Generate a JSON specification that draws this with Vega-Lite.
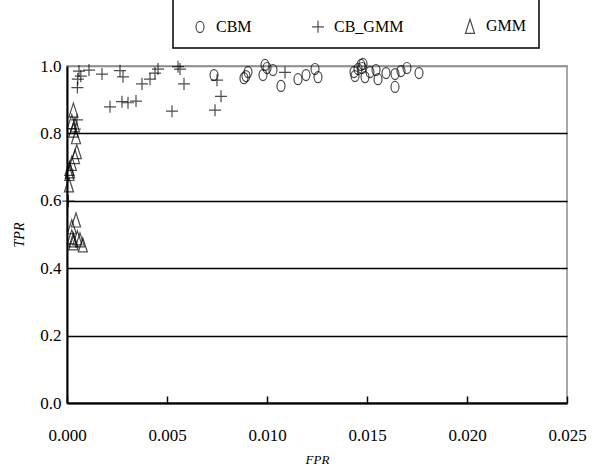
{
  "$schema": "https://vega.github.io/schema/vega-lite/v6.json",
  "width": 500,
  "height": 337,
  "autosize": {"type": "none"},
  "padding": {"left": 67, "top": 66, "right": 41, "bottom": 63},
  "background": "white",
  "config": {
    "font": "Liberation Serif, Times New Roman, serif",
    "legend": {"strokeWidth": 1.5},
    "view": {"stroke": "#8c8c8c", "strokeWidth": 1.5}
  },
  "data": {
    "values": [
      {"method": "CB_GMM", "fpr": 0.00054, "tpr": 0.961},
      {"method": "CB_GMM", "fpr": 0.00052, "tpr": 0.936},
      {"method": "CB_GMM", "fpr": 0.00069, "tpr": 0.970},
      {"method": "CB_GMM", "fpr": 0.0006, "tpr": 0.985},
      {"method": "CB_GMM", "fpr": 0.0011, "tpr": 0.988},
      {"method": "CB_GMM", "fpr": 0.00175, "tpr": 0.976},
      {"method": "CB_GMM", "fpr": 0.00265, "tpr": 0.986},
      {"method": "CB_GMM", "fpr": 0.0028, "tpr": 0.968},
      {"method": "CB_GMM", "fpr": 0.00215, "tpr": 0.879},
      {"method": "CB_GMM", "fpr": 0.00275, "tpr": 0.894},
      {"method": "CB_GMM", "fpr": 0.00305, "tpr": 0.891},
      {"method": "CB_GMM", "fpr": 0.00345, "tpr": 0.896},
      {"method": "CB_GMM", "fpr": 0.00375, "tpr": 0.947},
      {"method": "CB_GMM", "fpr": 0.00415, "tpr": 0.961},
      {"method": "CB_GMM", "fpr": 0.0044, "tpr": 0.979},
      {"method": "CB_GMM", "fpr": 0.00455, "tpr": 0.991},
      {"method": "CB_GMM", "fpr": 0.00525, "tpr": 0.866},
      {"method": "CB_GMM", "fpr": 0.00555, "tpr": 0.998},
      {"method": "CB_GMM", "fpr": 0.00565, "tpr": 0.991},
      {"method": "CB_GMM", "fpr": 0.00585, "tpr": 0.947},
      {"method": "CB_GMM", "fpr": 0.0074, "tpr": 0.869},
      {"method": "CB_GMM", "fpr": 0.0077, "tpr": 0.910},
      {"method": "CB_GMM", "fpr": 0.0075, "tpr": 0.958},
      {"method": "CB_GMM", "fpr": 0.0109, "tpr": 0.981},
      {"method": "CB_GMM", "fpr": 0.0005, "tpr": 0.840},
      {"method": "CB_GMM", "fpr": 0.0004, "tpr": 0.813},
      {"method": "CB_GMM", "fpr": 0.00007, "tpr": 0.599},
      {"method": "CBM", "fpr": 0.00735, "tpr": 0.973},
      {"method": "CBM", "fpr": 0.00885, "tpr": 0.964},
      {"method": "CBM", "fpr": 0.00895, "tpr": 0.970},
      {"method": "CBM", "fpr": 0.00905, "tpr": 0.982},
      {"method": "CBM", "fpr": 0.0098, "tpr": 0.973},
      {"method": "CBM", "fpr": 0.0099, "tpr": 1.003},
      {"method": "CBM", "fpr": 0.0100, "tpr": 0.994},
      {"method": "CBM", "fpr": 0.0103, "tpr": 0.988},
      {"method": "CBM", "fpr": 0.0107, "tpr": 0.941},
      {"method": "CBM", "fpr": 0.01155, "tpr": 0.961},
      {"method": "CBM", "fpr": 0.01195, "tpr": 0.973},
      {"method": "CBM", "fpr": 0.0124, "tpr": 0.991},
      {"method": "CBM", "fpr": 0.01255, "tpr": 0.967},
      {"method": "CBM", "fpr": 0.01435, "tpr": 0.982},
      {"method": "CBM", "fpr": 0.0144, "tpr": 0.970},
      {"method": "CBM", "fpr": 0.01455, "tpr": 0.991},
      {"method": "CBM", "fpr": 0.0147, "tpr": 1.003},
      {"method": "CBM", "fpr": 0.0148, "tpr": 1.006},
      {"method": "CBM", "fpr": 0.01475, "tpr": 0.994},
      {"method": "CBM", "fpr": 0.0149, "tpr": 0.967},
      {"method": "CBM", "fpr": 0.01515, "tpr": 0.982},
      {"method": "CBM", "fpr": 0.01545, "tpr": 0.988},
      {"method": "CBM", "fpr": 0.01555, "tpr": 0.961},
      {"method": "CBM", "fpr": 0.01595, "tpr": 0.979},
      {"method": "CBM", "fpr": 0.0164, "tpr": 0.976},
      {"method": "CBM", "fpr": 0.0164, "tpr": 0.938},
      {"method": "CBM", "fpr": 0.0167, "tpr": 0.985},
      {"method": "CBM", "fpr": 0.0170, "tpr": 0.994},
      {"method": "CBM", "fpr": 0.0176, "tpr": 0.979},
      {"method": "GMM", "fpr": 0.00032, "tpr": 0.869},
      {"method": "GMM", "fpr": 0.00024, "tpr": 0.835},
      {"method": "GMM", "fpr": 0.0004, "tpr": 0.825},
      {"method": "GMM", "fpr": 0.00032, "tpr": 0.810},
      {"method": "GMM", "fpr": 0.00045, "tpr": 0.790},
      {"method": "GMM", "fpr": 0.00049, "tpr": 0.746},
      {"method": "GMM", "fpr": 0.0004, "tpr": 0.731},
      {"method": "GMM", "fpr": 0.00024, "tpr": 0.711},
      {"method": "GMM", "fpr": 0.00012, "tpr": 0.696},
      {"method": "GMM", "fpr": 0.00015, "tpr": 0.689},
      {"method": "GMM", "fpr": 0.00012, "tpr": 0.681},
      {"method": "GMM", "fpr": 0.0001, "tpr": 0.647},
      {"method": "GMM", "fpr": 0.00045, "tpr": 0.543},
      {"method": "GMM", "fpr": 0.00024, "tpr": 0.523},
      {"method": "GMM", "fpr": 0.00024, "tpr": 0.493},
      {"method": "GMM", "fpr": 0.00032, "tpr": 0.484},
      {"method": "GMM", "fpr": 0.00052, "tpr": 0.490},
      {"method": "GMM", "fpr": 0.00065, "tpr": 0.484},
      {"method": "GMM", "fpr": 0.00079, "tpr": 0.469},
      {"method": "GMM", "fpr": 0.00032, "tpr": 0.475}
    ]
  },
  "mark": {"type": "point", "filled": false, "color": "black", "strokeWidth": 1.2, "size": 196, "clip": false},
  "encoding": {
    "x": {
      "field": "fpr", "type": "quantitative",
      "scale": {"domain": [0, 0.025], "nice": false},
      "axis": {
        "values": [0, 0.005, 0.01, 0.015, 0.02, 0.025],
        "format": ".3f", "title": "FPR",
        "grid": false, "domainColor": "black", "domainWidth": 2,
        "tickColor": "black", "tickWidth": 1.5, "tickSize": -7,
        "labelFontSize": 17, "labelColor": "black",
        "labelPadding": 31, "labelFlush": false,
        "titleFontSize": 13, "titleFontStyle": "italic",
        "titleFontWeight": "normal", "titleColor": "black", "titlePadding": 10
      }
    },
    "y": {
      "field": "tpr", "type": "quantitative",
      "scale": {"domain": [0, 1], "nice": false},
      "axis": {
        "values": [0, 0.2, 0.4, 0.6, 0.8, 1.0],
        "format": ".1f", "title": "TPR",
        "grid": true,
        "gridColor": {"condition": {"test": "datum.value >= 1", "value": "#8c8c8c"}, "value": "black"},
        "gridWidth": 1.5,
        "domainColor": "black", "domainWidth": 2, "ticks": false,
        "labelFontSize": 17, "labelColor": "black",
        "labelPadding": 6,
        "titleFontSize": 14, "titleFontStyle": "italic",
        "titleFontWeight": "normal", "titleColor": "black", "titlePadding": 13
      }
    },
    "shape": {
      "field": "method", "type": "nominal",
      "scale": {
        "domain": ["CBM", "CB_GMM", "GMM"],
        "range": [
          "M0,-0.79A0.57,0.79,0,1,1,0,0.79A0.57,0.79,0,1,1,0,-0.79Z",
          "M-0.86,0H0.86M0,-0.86V0.86",
          "M0,-1L0.65,1L-0.65,1Z"
        ]
      },
      "legend": {
        "orient": "none", "legendX": 106, "legendY": -90,
        "direction": "horizontal", "columns": 3,
        "title": "\u00a0", "titleFontSize": 16, "titlePadding": 14,
        "strokeColor": "black", "padding": 12, "columnPadding": 51,
        "labelFontSize": 16, "labelColor": "black",
        "labelOffset": 8, "symbolSize": 196, "symbolStrokeColor": "black",
        "symbolStrokeWidth": 1.2, "symbolType": "circle", "symbolOffset": 7
      }
    }
  }
}
